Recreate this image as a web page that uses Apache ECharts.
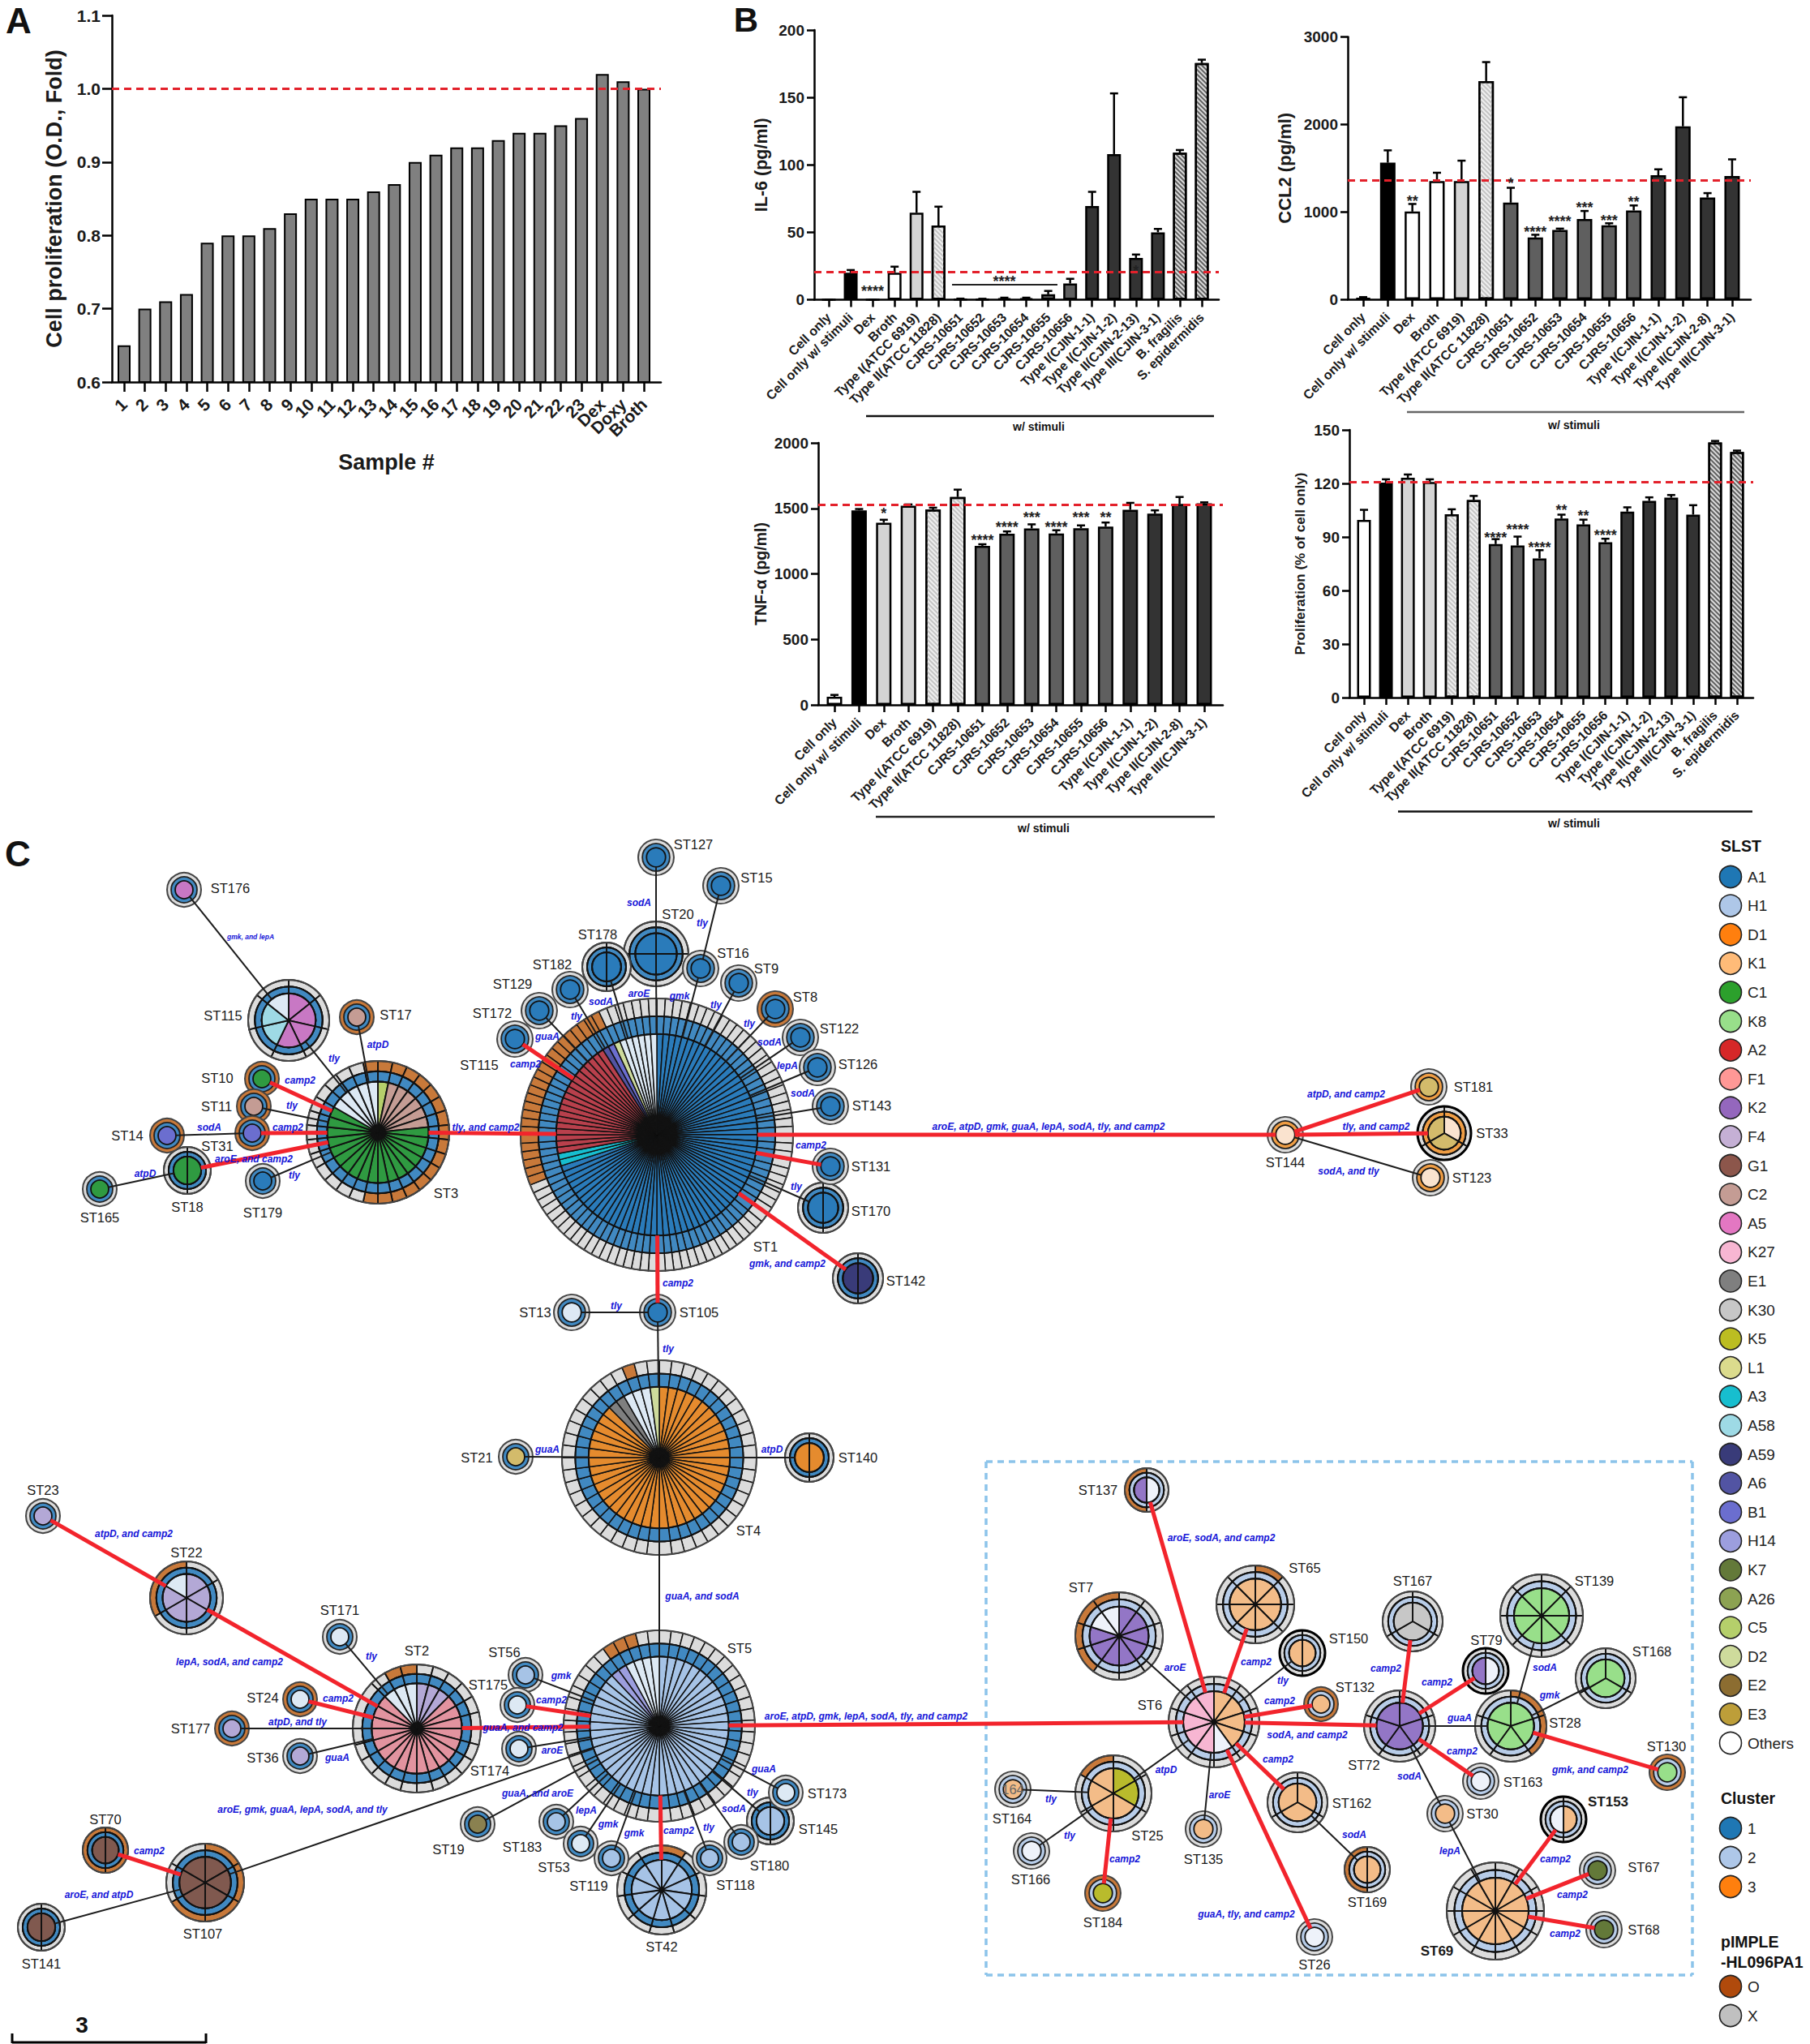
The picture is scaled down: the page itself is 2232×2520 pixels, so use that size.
<!DOCTYPE html>
<html><head><meta charset="utf-8">
<style>html,body{margin:0;padding:0;background:#fff}#c{width:2232px;height:2520px}</style>
<script src="https://cdn.jsdelivr.net/npm/echarts@6/dist/echarts.min.js"></script>
</head><body><div id="c"></div>
<script>
const FONT='"Liberation Sans",Arial,sans-serif';
/* ---------- Panel A ---------- */
const sampleLabels=['1','2','3','4','5','6','7','8','9','10','11','12','13','14','15','16','17','18','19','20','21','22','23','Dex','Doxy','Broth'];
const sampleValues=[.65,.70,.71,.72,.79,.80,.80,.81,.83,.85,.85,.85,.86,.87,.90,.91,.92,.92,.93,.94,.94,.95,.96,1.02,1.01,1.00];
/* ---------- Panel B ---------- */
const strainsA=['Cell only','Cell only w/ stimuli','Dex','Broth','Type I(ATCC 6919)','Type II(ATCC 11828)','CJRS-10651','CJRS-10652','CJRS-10653','CJRS-10654','CJRS-10655','CJRS-10656','Type I(CJIN-1-1)','Type I(CJIN-1-2)','Type II(CJIN-2-13)','Type III(CJIN-3-1)','B. fragilis','S. epidermidis'];
const strainsB=['Cell only','Cell only w/ stimuli','Dex','Broth','Type I(ATCC 6919)','Type II(ATCC 11828)','CJRS-10651','CJRS-10652','CJRS-10653','CJRS-10654','CJRS-10655','CJRS-10656','Type I(CJIN-1-1)','Type I(CJIN-1-2)','Type II(CJIN-2-8)','Type III(CJIN-3-1)'];
const il6Mean=[0,20,0,20,64.5,55,.3,.3,1,1,4,12,69.5,108,31,50,109,175.5];
const il6Top=[0,22,0,24.5,80,69,.8,.7,1.5,1.5,6.5,15.5,80,153,33.5,52.5,111,178];
const il6Fill=['W','K','W','W','L','LH','M','M','M','M','M','M','D','D','D','D','DH','DH'];
const il6Stars=[[2,8.7,'****'],[8,16,'****'],[14,23.8,'*']];
const ccl2Mean=[15,1562,1003,1351,1351,2495,1105,706,792,917,847,1016,1418,1978,1163,1409];
const ccl2Top=[25,1703,1090,1447,1585,2712,1275,738,808,1010,869,1073,1486,2310,1214,1600];
const ccl2Fill=['W','K','W','W','L','LH','M','M','M','M','M','M','D','D','D','D'];
const ccl2Stars=[[2,1163,'**'],[6,1361,'*'],[7,808,'****'],[8,923,'****'],[9,1083,'***'],[10,936,'***'],[11,1147,'**']];
const tnfMean=[62,1485,1390,1520,1491,1587,1214,1306,1347,1308,1349,1361,1489,1460,1534,1538];
const tnfTop=[76,1495,1413,1530,1505,1643,1226,1324,1378,1333,1370,1392,1542,1485,1587,1546];
const tnfFill=['W','K','L','L','LH','LH','M','M','M','M','M','M','D','D','D','D'];
const tnfStars=[[2,1485,'*'],[6,1279,'****'],[7,1382,'****'],[8,1458,'***'],[9,1382,'****'],[10,1458,'***'],[11,1458,'**']];
const proMean=[99.5,120.5,123.2,120.8,102.7,110.7,86,85.2,78,100.3,97,87,104.2,110.2,112,102.5,143,137.6];
const proTop=[105.2,122.3,125,122.3,105.5,113,88.8,90.2,82.6,102.5,99.7,89,106.6,112.2,113.5,107.8,143.8,138.4];
const proFill=['W','K','L','L','LH','LH','M','M','M','M','M','M','D','D','D','D','DH','DH'];
const proStars=[[6,91.5,'****'],[7,96,'****'],[8,86,'****'],[9,106.6,'**'],[10,103.7,'**'],[11,92.6,'****']];
/* ---------- Panel C composition ---------- */
const slstNames=['A1','H1','D1','K1','C1','K8','A2','F1','K2','F4','G1','C2','A5','K27','E1','K30','K5','L1','A3','A58','A59','A6','B1','H14','K7','A26','C5','D2','E2','E3','Others'];
const slstColors=['#1f77b4','#aec7e8','#ff7f0e','#ffbb78','#2ca02c','#98df8a','#d62728','#ff9896','#9467bd','#c5b0d5','#8c564b','#c49c94','#e377c2','#f7b6d2','#7f7f7f','#c7c7c7','#bcbd22','#dbdb8d','#17becf','#9edae5','#393b79','#5254a3','#6b6ecf','#9c9ede','#637939','#8ca252','#b5cf6b','#cedb9c','#8c6d31','#bd9e39','#ffffff'];
const nodeSlst={
ST1:[['A1',70],['A3',2],['A2',19],['A6',1],['B1',1],['D2',1],['Others',6]],
ST3:[['C5',1],['C2',6],['C1',18],['Others',5]],
ST115:[['A5',4],['A58',2],['Others',1]],ST176:[['A5',1]],ST17:[['C2',1]],ST10:[['C1',1]],ST11:[['C2',1]],ST31:[['B1',1]],ST14:[['B1',1]],
ST18:[['C1',2]],ST165:[['C1',1]],ST179:[['A1',1]],ST127:[['A1',1]],ST15:[['A1',1]],ST20:[['A1',4]],ST178:[['A1',2]],ST16:[['A1',1]],ST182:[['A1',1]],
ST9:[['A1',1]],ST129:[['A1',1]],ST8:[['A1',1]],ST172:[['A1',1]],ST122:[['A1',1]],ST126:[['A1',1]],ST143:[['A1',1]],ST131:[['A1',1]],ST170:[['A1',2]],
ST142:[['A59',2]],ST105:[['A1',1]],ST13:[['Others',1]],ST144:[['Others',1]],ST181:[['E3',1]],ST33:[['Others',1],['E3',2]],ST123:[['Others',1]],
ST4:[['D1',42],['E1',2],['Others',3],['D2',1]],ST21:[['E3',1]],ST140:[['D1',2]],
ST2:[['F4',3],['F1',18],['Others',3]],ST22:[['F4',5],['Others',1]],ST23:[['F4',1]],ST24:[['Others',1]],ST177:[['F4',1]],ST36:[['F4',1]],ST171:[['Others',1]],
ST5:[['H1',44],['H14',2],['Others',4]],ST56:[['H1',1]],ST175:[['Others',1]],ST174:[['Others',1]],ST19:[['E2',1]],ST183:[['H1',1]],ST53:[['Others',1]],ST119:[['H1',1]],
ST42:[['H1',11]],ST118:[['H1',1]],ST180:[['H1',1]],ST145:[['H1',2]],ST173:[['Others',1]],ST70:[['G1',2]],ST107:[['G1',6]],ST141:[['G1',2]],
ST6:[['K1',4],['Others',1],['K27',5]],ST137:[['Others',1],['K2',1]],ST7:[['K2',8],['Others',2]],ST65:[['K1',8]],ST150:[['K1',2]],ST132:[['K1',1]],ST135:[['K1',1]],
ST26:[['Others',1]],ST164:[['K1',1]],ST166:[['Others',1]],ST184:[['K5',1]],ST25:[['K5',2],['K1',4]],ST162:[['K1',3]],ST169:[['K1',2]],ST72:[['K2',5]],ST167:[['K30',3]],
ST79:[['Others',1],['K2',1]],ST139:[['K8',8]],ST168:[['K8',3]],ST28:[['K8',5]],ST130:[['K8',1]],ST163:[['Others',1]],ST30:[['K1',1]],ST153:[['K1',1],['Others',1]],
ST67:[['K7',1]],ST68:[['K7',1]],ST69:[['K1',12]]};
const cluster2=['ST6','ST137','ST7','ST65','ST150','ST132','ST135','ST26','ST164','ST166','ST184','ST25','ST162','ST169','ST72','ST167','ST79','ST139','ST168','ST28','ST130','ST163','ST30','ST153','ST67','ST68','ST69'];
const cluster3=['ST144','ST181','ST33','ST123'];
const plasmidWhole=['ST17','ST10','ST11','ST31','ST14','ST8','ST24','ST177','ST70','ST132','ST184','ST130'];
const plasmidRuns={ST1:[['X',69],['O',24],['X',7]],ST3:[['O',16],['X',13],['O',1]],ST4:[['X',45],['O',1],['X',2]],ST2:[['X',22],['O',2]],ST22:[['X',4],['O',2]],
ST5:[['X',45],['O',3],['X',2]],ST42:[['O',1],['X',10]],ST107:[['O',4],['X',2]],ST137:[['X',1],['O',1]],ST7:[['X',6],['O',4]],ST65:[['O',1],['X',7]],ST25:[['X',5],['O',1]],
ST169:[['X',1],['O',1]],ST28:[['O',2],['X',3]]};
const edges=[
['ST3','ST1','r','tly, and camp2'],['ST1','ST172','r','camp2'],['ST1','ST129','k','guaA'],['ST1','ST182','k','tly'],['ST1','ST178','k','sodA'],['ST1','ST20','k','aroE'],
['ST1','ST16','k','gmk'],['ST1','ST9','k','tly'],['ST1','ST8','k','tly'],['ST1','ST122','k','sodA'],['ST1','ST126','k','lepA'],['ST1','ST143','k','sodA'],['ST1','ST131','r','camp2'],
['ST1','ST170','k','tly'],['ST1','ST142','r','gmk, and camp2'],['ST1','ST105','r','camp2'],['ST105','ST13','k','tly'],['ST105','ST4','k','tly'],['ST20','ST127','k','sodA'],['ST16','ST15','k','tly'],
['ST1','ST144','r','aroE, atpD, gmk, guaA, lepA, sodA, tly, and camp2'],['ST144','ST181','r','atpD, and camp2'],['ST144','ST33','r','tly, and camp2'],['ST144','ST123','k','sodA, and tly'],
['ST3','ST115','k','tly'],['ST115','ST176','k','gmk, and lepA'],['ST3','ST17','k','atpD'],['ST3','ST10','r','camp2'],['ST3','ST11','k','tly'],['ST3','ST31','r','camp2'],['ST31','ST14','k','sodA'],
['ST3','ST18','r','aroE, and camp2'],['ST18','ST165','k','atpD'],['ST3','ST179','k','tly'],['ST4','ST21','k','guaA'],['ST4','ST140','k','atpD'],['ST4','ST5','k','guaA, and sodA'],
['ST5','ST56','k','gmk'],['ST5','ST175','r','camp2'],['ST5','ST2','r','guaA, and camp2'],['ST5','ST174','k','aroE'],['ST5','ST19','k','guaA, and aroE'],['ST5','ST183','k','lepA'],['ST5','ST53','k','gmk'],
['ST5','ST119','k','gmk'],['ST5','ST42','r','camp2'],['ST5','ST118','k','tly'],['ST5','ST180','k','sodA'],['ST5','ST145','k','tly'],['ST5','ST173','k','guaA'],
['ST5','ST6','r','aroE, atpD, gmk, lepA, sodA, tly, and camp2'],['ST2','ST171','k','tly'],['ST2','ST22','r','lepA, sodA, and camp2'],['ST22','ST23','r','atpD, and camp2'],['ST2','ST24','r','camp2'],
['ST2','ST177','k','atpD, and tly'],['ST2','ST36','k','guaA'],['ST5','ST107','k','aroE, gmk, guaA, lepA, sodA, and tly'],['ST107','ST70','r','camp2'],['ST107','ST141','k','aroE, and atpD'],
['ST6','ST137','r','aroE, sodA, and camp2'],['ST6','ST7','k','aroE'],['ST6','ST65','r','camp2'],['ST6','ST150','k','tly'],['ST6','ST132','r','camp2'],['ST6','ST72','r','sodA, and camp2'],['ST6','ST162','r','camp2'],
['ST6','ST25','k','atpD'],['ST6','ST135','k','aroE'],['ST6','ST26','r','guaA, tly, and camp2'],['ST25','ST164','k','tly'],['ST25','ST166','k','tly'],['ST25','ST184','r','camp2'],['ST162','ST169','k','sodA'],
['ST72','ST167','r','camp2'],['ST72','ST79','r','camp2'],['ST72','ST28','k','guaA'],['ST72','ST163','r','camp2'],['ST72','ST30','k','sodA'],['ST30','ST69','k','lepA'],['ST28','ST139','k','sodA'],['ST28','ST168','k','gmk'],
['ST28','ST130','r','gmk, and camp2'],['ST69','ST153','r','camp2'],['ST69','ST67','r','camp2'],['ST69','ST68','r','camp2']];
/* ---------- Layout (positions only) ---------- */
const nodeXY={ST1:[810,1399,168],ST3:[466,1396,88],ST115:[356,1258,50],ST176:[227,1097,21],ST17:[440,1254,21],ST10:[323,1330,21],ST11:[313,1364,21],ST31:[311,1397,21],ST14:[206,1400,21],ST18:[231,1443,29],ST165:[123,1466,21],ST179:[324,1456,21],
ST13:[705,1618,22],ST105:[811,1618,22],ST127:[809,1057,22],ST15:[889,1092,22],ST20:[809,1176,40],ST178:[748,1192,30],ST16:[864,1194,22],ST182:[703,1220,22],ST9:[911,1212,22],ST129:[665,1246,22],ST8:[956,1244,22],ST172:[635,1281,22],ST122:[987,1279,22],ST126:[1008,1316,22],ST143:[1024,1364,22],ST131:[1024,1438,22],ST170:[1015,1489,31],ST142:[1058,1576,31],
ST144:[1585,1399,22],ST181:[1762,1340,22],ST33:[1781,1397,33],ST123:[1764,1452,22],ST4:[813,1797,120],ST21:[636,1796,21],ST140:[998,1797,30],
ST23:[53,1869,21],ST22:[230,1970,45],ST171:[419,2018,21],ST2:[514,2131,79],ST24:[370,2095,21],ST177:[286,2131,21],ST36:[370,2165,21],ST56:[648,2065,21],ST175:[638,2102,21],ST174:[640,2156,21],ST5:[813,2128,118],ST19:[589,2249,21],ST183:[686,2246,21],ST53:[716,2273,21],ST119:[754,2291,21],ST42:[816,2330,55],ST118:[875,2291,21],ST180:[914,2271,21],ST145:[950,2245,29],ST173:[969,2210,21],ST70:[130,2281,28],ST107:[253,2321,48],ST141:[51,2376,29],
ST137:[1414,1837,27],ST7:[1380,2017,54],ST65:[1548,1978,48],ST150:[1606,2038,28],ST6:[1497,2123,56],ST132:[1629,2101,21],ST167:[1742,1999,37],ST79:[1832,2060,28],ST139:[1901,1992,51],ST168:[1980,2069,37],ST72:[1726,2128,44],ST28:[1863,2128,44],ST130:[2056,2185,22],ST163:[1826,2196,22],ST25:[1373,2211,47],ST164:[1249,2206,22],ST166:[1272,2282,22],ST184:[1360,2334,22],ST135:[1484,2255,22],ST162:[1600,2222,37],ST169:[1686,2305,28],ST26:[1621,2388,22],ST30:[1782,2236,22],ST153:[1928,2243,28],ST69:[1844,2356,60],ST67:[1970,2306,22],ST68:[1978,2379,22]};
const thickOutline=['ST33','ST150','ST79','ST153'];
const nodeLabelXY={ST176:[284,1095],ST115:[275,1252],ST17:[488,1251],ST10:[268,1329],ST11:[267,1364],ST14:[157,1400],ST31:[268,1413],ST165:[123,1501],ST18:[231,1488],ST179:[324,1495],ST3:[550,1471],
ST127:[855,1041],ST15:[933,1082],ST20:[836,1127],ST178:[737,1152],ST16:[904,1175],ST182:[681,1189],ST9:[945,1194],ST129:[632,1213],ST8:[993,1229],ST172:[607,1249],ST122:[1035,1268],ST126:[1058,1312],ST143:[1075,1363],ST131:[1074,1438],ST170:[1074,1493],ST1:[944,1537],ST142:[1117,1579],ST13:[660,1618],ST105:[862,1618],
ST4:[923,1887],ST21:[588,1797],ST140:[1058,1797],ST23:[53,1837],ST22:[230,1914],ST171:[419,1985],ST2:[514,2035],ST24:[324,2093],ST177:[235,2131],ST36:[324,2167],ST56:[622,2037],ST175:[602,2077],ST174:[604,2183],ST5:[912,2032],ST19:[553,2280],ST183:[644,2277],ST53:[683,2302],ST119:[726,2325],ST42:[816,2400],ST118:[907,2324],ST180:[949,2300],ST145:[1009,2255],ST173:[1020,2211],ST70:[130,2243],ST107:[250,2384],ST141:[51,2421],
ST137:[1354,1837],ST7:[1333,1957],ST65:[1609,1933],ST150:[1663,2020],ST6:[1418,2102],ST132:[1671,2080],ST167:[1742,1949],ST79:[1833,2022],ST139:[1966,1949],ST168:[2037,2036],ST72:[1682,2176],ST28:[1930,2124],ST130:[2055,2153],ST163:[1878,2197],ST25:[1415,2263],ST164:[1248,2242],ST166:[1271,2317],ST184:[1360,2370],ST135:[1484,2292],ST162:[1667,2223],ST169:[1686,2345],ST26:[1621,2422],ST30:[1828,2236],ST153:[1983,2221],ST69:[1772,2405],ST67:[2027,2302],ST68:[2027,2379],
ST144:[1585,1433],ST181:[1817,1340],ST33:[1840,1397],ST123:[1815,1452]};
const boldLabels=['ST153','ST69'];
const edgeLabelXY={'ST3-ST1':[599,1390],'ST1-ST172':[648,1312],'ST1-ST129':[675,1278],'ST1-ST182':[711,1253],'ST1-ST178':[741,1235],'ST1-ST20':[788,1225],'ST1-ST16':[838,1228],'ST1-ST9':[883,1239],'ST1-ST8':[924,1262],'ST1-ST122':[949,1285],'ST1-ST126':[971,1314],'ST1-ST143':[990,1348],'ST1-ST131':[1000,1412],'ST1-ST170':[982,1463],'ST1-ST142':[971,1558],'ST1-ST105':[836,1582],'ST105-ST13':[760,1610],'ST105-ST4':[824,1663],'ST20-ST127':[788,1113],'ST16-ST15':[866,1138],
'ST1-ST144':[1293,1389],'ST144-ST181':[1660,1349],'ST144-ST33':[1697,1389],'ST144-ST123':[1663,1444],'ST3-ST115':[412,1305],'ST115-ST176':[309,1155],'ST3-ST17':[466,1288],'ST3-ST10':[370,1332],'ST3-ST11':[360,1363],'ST3-ST31':[355,1390],'ST31-ST14':[258,1390],'ST3-ST18':[313,1429],'ST18-ST165':[179,1447],'ST3-ST179':[363,1449],'ST4-ST21':[675,1787],'ST4-ST140':[952,1787],'ST4-ST5':[866,1968],
'ST5-ST56':[692,2066],'ST5-ST175':[680,2096],'ST5-ST2':[645,2130],'ST5-ST174':[681,2158],'ST5-ST19':[663,2211],'ST5-ST183':[723,2232],'ST5-ST53':[750,2249],'ST5-ST119':[782,2260],'ST5-ST42':[837,2257],'ST5-ST118':[874,2253],'ST5-ST180':[905,2230],'ST5-ST145':[928,2210],'ST5-ST173':[942,2181],'ST5-ST6':[1068,2116],'ST2-ST171':[458,2042],'ST2-ST22':[283,2049],'ST22-ST23':[165,1891],'ST2-ST24':[417,2094],'ST2-ST177':[367,2123],'ST2-ST36':[416,2167],'ST5-ST107':[373,2231],'ST107-ST70':[184,2282],'ST107-ST141':[122,2336],
'ST6-ST137':[1506,1896],'ST6-ST7':[1449,2056],'ST6-ST65':[1549,2049],'ST6-ST150':[1582,2072],'ST6-ST132':[1578,2097],'ST6-ST72':[1612,2139],'ST6-ST162':[1576,2169],'ST6-ST25':[1438,2182],'ST6-ST135':[1504,2213],'ST6-ST26':[1537,2360],'ST25-ST164':[1296,2218],'ST25-ST166':[1319,2263],'ST25-ST184':[1387,2292],'ST162-ST169':[1670,2262],'ST72-ST167':[1709,2057],'ST72-ST79':[1772,2074],'ST72-ST28':[1800,2118],'ST72-ST163':[1803,2159],'ST72-ST30':[1738,2190],'ST30-ST69':[1788,2282],'ST28-ST139':[1905,2056],'ST28-ST168':[1911,2090],'ST28-ST130':[1961,2182],'ST69-ST153':[1918,2292],'ST69-ST67':[1939,2336],'ST69-ST68':[1930,2384]};

/* ---------- Styles ---------- */
const plainFill={W:'#ffffff',K:'#000000',L:'#d4d4d4',M:'#5f5f5f',D:'#333333'};
const hatch={LH:['#efefef','#c4c4c4'],DH:['#dcdcdc','#606060']};
const nodeColorOverride={A1:'#2a7bba',A2:'#b8404c',D1:'#e58b2e',F1:'#e2939f',E3:'#d3bb6b',C1:'#2f9a41',K2:'#9376c6',H1:'#a6c3e6',K5:'#b9bb2c',G1:'#80594f',E2:'#8a8150',K1:'#f3bc88',F4:'#b3a8d6',A5:'#c878c4'};
const othersTint={1:'#dde9f4',2:'#eef2fa',3:'#fae3cf'};
const clusterRing={1:'#4189c1',2:'#b7cce8',3:'#ef9d44'};
const plasmidRing={O:'#c8793a',X:'#dcdcdc'};
const TXT='#1a1a1a';

/* ---------- Charts A, B: grids ---------- */
const charts=[
 {labels:sampleLabels,mean:sampleValues,left:138,w:677,top:19,h:452,spacing:25.64,first:153,barW:16,ymin:.6,ymax:1.1,yint:.1,title:'Cell proliferation (O.D., Fold)',titleSize:27,titleGap:58,line:1.0,tickSize:21,catSize:21,fmt:v=>v.toFixed(1),xName:'Sample #',barFill:'#808080',bw:2,tickLen:12,yMargin:14,xMargin:24,blankEnd:true},
 {labels:strainsA,mean:il6Mean,top_:il6Top,fill:il6Fill,stars:il6Stars,left:1004,w:499,top:37,h:332.5,spacing:27.06,first:1022,barW:17,ymin:0,ymax:200,yint:50,title:'IL-6 (pg/ml)',titleSize:21.5,titleGap:54,line:20.5,tickSize:19,catSize:16},
 {labels:strainsB,mean:ccl2Mean,top_:ccl2Top,fill:ccl2Fill,stars:ccl2Stars,left:1662,w:497,top:45.5,h:323.5,spacing:30.33,first:1681,barW:19,ymin:0,ymax:3000,yint:1000,title:'CCL2 (pg/ml)',titleSize:22,titleGap:67,line:1361,tickSize:19,catSize:16},
 {labels:strainsB,mean:tnfMean,top_:tnfTop,fill:tnfFill,stars:tnfStars,left:1009,w:499,top:546,h:323,spacing:30.4,first:1029,barW:19,ymin:0,ymax:2000,yint:500,title:'TNF-\u03b1 (pg/ml)',titleSize:19.5,titleGap:61,line:1528,tickSize:19,catSize:16},
 {labels:strainsA,mean:proMean,top_:proTop,fill:proFill,stars:proStars,left:1664,w:498,top:530,h:330,spacing:27.06,first:1682,barW:17,ymin:0,ymax:150,yint:30,title:'Proliferation (% of cell only)',titleSize:17,titleGap:52,line:120.8,tickSize:19,catSize:16}
];
const grid=[],xAxis=[],yAxis=[],series=[];
charts.forEach((c,k)=>{
 const idx=c.labels.map((_,i)=>i);
 const xmin=-(c.first-c.left)/c.spacing, xmax=xmin+c.w/c.spacing;
 /* a blank last stop keeps the tightly packed final rotated labels from being dropped as overlaps */
 const stops=c.blankEnd?idx.concat([xmax-.001]):idx;
 grid.push({left:c.left,top:c.top,width:c.w,height:c.h});
 xAxis.push({gridIndex:k,type:'value',min:xmin,max:xmax,splitLine:{show:false},
  axisLine:{show:true,onZero:false,lineStyle:{color:'#000',width:2.5}},
  axisTick:{show:true,customValues:stops,length:c.tickLen||9,lineStyle:{color:'#000',width:2.5}},
  axisLabel:{show:true,customValues:stops,formatter:v=>c.labels[Math.round(v)]||'',rotate:45,fontFamily:FONT,fontWeight:'bold',fontSize:c.catSize,color:TXT,margin:c.xMargin||19,hideOverlap:false,showMinLabel:true,showMaxLabel:c.blankEnd?false:true},
  name:c.xName||'',nameLocation:'middle',nameGap:85,nameTextStyle:{fontFamily:FONT,fontWeight:'bold',fontSize:27,color:TXT}});
 yAxis.push({gridIndex:k,type:'value',min:c.ymin,max:c.ymax,interval:c.yint,splitLine:{show:false},
  axisLine:{show:true,onZero:false,lineStyle:{color:'#000',width:2.5}},
  axisTick:{show:true,length:c.tickLen||9,lineStyle:{color:'#000',width:2.5}},
  axisLabel:{show:true,fontFamily:FONT,fontWeight:'bold',fontSize:c.tickSize,color:TXT,margin:c.yMargin||12,formatter:c.fmt||(v=>String(v))},
  name:c.title,nameLocation:'middle',nameGap:c.titleGap,nameRotate:90,nameTextStyle:{fontFamily:FONT,fontWeight:'bold',fontSize:c.titleSize,color:TXT}});
 if(c.top_){
  series.push({type:'custom',xAxisIndex:k,yAxisIndex:k,z:2,silent:true,clip:false,data:idx.map(i=>[i,c.mean[i],c.top_[i]]),encode:{x:0,y:[1,2]},
   renderItem(p,api){const a=api.coord([api.value(0),api.value(1)]),b=api.coord([api.value(0),api.value(2)]);
    const s={stroke:'#000',lineWidth:2.5};
    return {type:'group',children:[{type:'line',shape:{x1:a[0],y1:a[1],x2:b[0],y2:b[1]},style:s},{type:'line',shape:{x1:b[0]-5,y1:b[1],x2:b[0]+5,y2:b[1]},style:s}]};}});
 }
 series.push({type:'bar',xAxisIndex:k,yAxisIndex:k,z:3,barWidth:c.barW,silent:true,
  itemStyle:{borderColor:'#000',borderWidth:c.bw||2.5},
  data:idx.map(i=>{const key=c.fill?c.fill[i]:null;let color=c.barFill||plainFill[key],decal=null;
    if(hatch[key]){color=hatch[key][0];decal={symbol:'rect',symbolSize:1,dashArrayX:[1,0],dashArrayY:[2,2],rotation:Math.PI/4,color:hatch[key][1]};}
    return {value:[i,c.mean[i]],itemStyle:{color,decal:decal||undefined}};}),
  markLine:{silent:true,symbol:'none',z:6,label:{show:false},lineStyle:{color:'#e3212b',type:[9,6],width:3},data:[{yAxis:c.line}]}});
 if(c.stars){
  series.push({type:'custom',xAxisIndex:k,yAxisIndex:k,z:7,silent:true,clip:false,data:c.stars.map(s=>[s[0],s[1]]),encode:{x:0,y:1},
   renderItem(p,api){const a=api.coord([api.value(0),api.value(1)]);
    return {type:'text',style:{x:a[0],y:a[1]+4,text:c.stars[p.dataIndex][2],align:'center',verticalAlign:'middle',fontFamily:FONT,fontWeight:'bold',fontSize:18,fill:'#222'}};}});
 }
});
/* overlay coordinate system for panel C and annotations */
const OV=charts.length;
grid.push({left:0,top:0,width:2232,height:2520});
xAxis.push({gridIndex:OV,type:'value',min:0,max:2232,show:false});
yAxis.push({gridIndex:OV,type:'value',min:0,max:2520,inverse:true,show:false});

/* nodes */
const clusterOf=n=>cluster2.includes(n)?2:cluster3.includes(n)?3:1;
const expand=runs=>runs.flatMap(([k,c])=>Array(c).fill(k));
const names=Object.keys(nodeXY).sort((a,b)=>nodeXY[b][2]-nodeXY[a][2]);
const ringT=r=>.115*r+2.6;
const slstColor=(k,cl)=>k==='Others'?othersTint[cl]:(nodeColorOverride[k]||slstColors[slstNames.indexOf(k)]);
series.push({type:'custom',xAxisIndex:OV,yAxisIndex:OV,z:10,silent:true,clip:false,
 data:names.map(n=>[nodeXY[n][0],nodeXY[n][1]]),encode:{x:0,y:1},
 renderItem(p,api){
  const name=names[p.dataIndex],c=api.coord([api.value(0),api.value(1)]),r=nodeXY[name][2];
  const cl=clusterOf(name),t=ringT(r),r2=r-t,r1=r-2*t;
  const sl=expand(nodeSlst[name]),n=sl.length;
  const pl=plasmidRuns[name]?expand(plasmidRuns[name]):Array(n).fill(plasmidWhole.includes(name)?'O':'X');
  const lw=r>100?1.5:1.9,ch=[];
  if(n===1){
   ch.push({type:'circle',shape:{cx:c[0],cy:c[1],r},style:{fill:plasmidRing[pl[0]],stroke:'#444',lineWidth:2}});
   ch.push({type:'circle',shape:{cx:c[0],cy:c[1],r:r2},style:{fill:clusterRing[cl],stroke:'#222',lineWidth:1.8}});
   ch.push({type:'circle',shape:{cx:c[0],cy:c[1],r:r1},style:{fill:slstColor(sl[0],cl),stroke:'#111',lineWidth:1.8}});
  } else {
   const step=2*Math.PI/n;
   for(let i=0;i<n;i++){
    const a0=-Math.PI/2+i*step,a1=a0+step;
    const sec=(r0,rr,fill)=>({type:'sector',shape:{cx:c[0],cy:c[1],r0,r:rr,startAngle:a0,endAngle:a1,clockwise:true},style:{fill,stroke:'#111',lineWidth:lw}});
    ch.push(sec(r2,r,plasmidRing[pl[i]]));
    ch.push(sec(r1,r2,clusterRing[cl]));
    ch.push(sec(0,r1,slstColor(sl[i],cl)));
   }
   ch.push({type:'circle',shape:{cx:c[0],cy:c[1],r:r},style:{fill:'none',stroke:'#444',lineWidth:2}});
   ch.push({type:'circle',shape:{cx:c[0],cy:c[1],r:r2},style:{fill:'none',stroke:'#111',lineWidth:2}});
   ch.push({type:'circle',shape:{cx:c[0],cy:c[1],r:r1},style:{fill:'none',stroke:'#111',lineWidth:2}});
  }
  if(thickOutline.includes(name)) ch.push({type:'circle',shape:{cx:c[0],cy:c[1],r:r},style:{fill:'none',stroke:'#000',lineWidth:3}});
  return {type:'group',children:ch};
 }});
/* edges */
series.push({type:'custom',xAxisIndex:OV,yAxisIndex:OV,z:12,silent:true,clip:false,
 data:edges.map(e=>[nodeXY[e[0]][0],nodeXY[e[0]][1],nodeXY[e[1]][0],nodeXY[e[1]][1]]),encode:{x:[0,2],y:[1,3]},
 renderItem(p,api){
  const e=edges[p.dataIndex],a=api.coord([api.value(0),api.value(1)]),b=api.coord([api.value(2),api.value(3)]);
  const d=Math.hypot(b[0]-a[0],b[1]-a[1]),ux=(b[0]-a[0])/d,uy=(b[1]-a[1])/d;
  const ra=nodeXY[e[0]][2],rb=nodeXY[e[1]][2],pa=ra-2*ringT(ra),pb=rb-2*ringT(rb);
  const red=e[2]==='r';
  return {type:'line',shape:{x1:a[0]+ux*pa,y1:a[1]+uy*pa,x2:b[0]-ux*pb,y2:b[1]-uy*pb},style:{stroke:red?'#f2242c':'#1c1c1c',lineWidth:red?5:2}};
 }});
/* text helper series */
function textSeries(rows,z,style){
 series.push({type:'custom',xAxisIndex:OV,yAxisIndex:OV,z,silent:true,clip:false,data:rows.map(r=>[r[0],r[1]]),encode:{x:0,y:1},
  renderItem(p,api){const a=api.coord([api.value(0),api.value(1)]),r=rows[p.dataIndex];
   return {type:'text',style:Object.assign({x:a[0],y:a[1],text:r[2],align:'center',verticalAlign:'middle',fontFamily:FONT,fill:TXT},style,r[3]||{})};}});
}
textSeries(Object.keys(nodeLabelXY).map(n=>[nodeLabelXY[n][0],nodeLabelXY[n][1],n,boldLabels.includes(n)?{fontWeight:'bold',fontSize:17}:{}]).concat([[591,1313,'ST115'],[1249,2206,'164',{fill:'#666'}]]),14,{fontSize:16.5});
textSeries(edges.map(e=>{const xy=edgeLabelXY[e[0]+'-'+e[1]];const tiny=e[3]==='gmk, and lepA';return [xy[0],xy[1],e[3],tiny?{fontSize:8.5}:{}];}),15,{fontSize:12,fontWeight:'bold',fontStyle:'italic',fill:'#1515d8'});
/* rules: stimuli bars, scale bar, dashed frame */
const rules=[[1068,513,1497,513,'#111',2.5],[1735,508,2151,508,'#666',2.5],[1080,1007,1498,1007,'#222',2.5],[1724,1000.5,2161,1000.5,'#111',2.5],[1174,351,1304,351,'#222',2],
 [15,2518,254,2518,'#000',3],[15,2507,15,2519,'#000',3],[254,2507,254,2519,'#000',3],
 [1216,1802,2087,1802,'#8cc4ea',3.5,[8,6]],[1216,2435,2087,2435,'#8cc4ea',3.5,[8,6]],[1216,1802,1216,2435,'#8cc4ea',3.5,[8,6]],[2087,1802,2087,2435,'#8cc4ea',3.5,[8,6]]];
series.push({type:'custom',xAxisIndex:OV,yAxisIndex:OV,z:8,silent:true,clip:false,data:rules.map(r=>r.slice(0,4)),encode:{x:[0,2],y:[1,3]},
 renderItem(p,api){const a=api.coord([api.value(0),api.value(1)]),b=api.coord([api.value(2),api.value(3)]),r=rules[p.dataIndex];
  return {type:'line',shape:{x1:a[0],y1:a[1],x2:b[0],y2:b[1]},style:{stroke:r[4],lineWidth:r[5],lineDash:r[6]||null}};}});
textSeries([[23,25,'A',{fontSize:44}],[920,24,'B',{fontSize:42}],[22,1052,'C',{fontSize:44}],[101,2496,'3',{fontSize:28}],
 [1281,526,'w/ stimuli',{fontSize:14}],[1941,524,'w/ stimuli',{fontSize:14}],[1287,1021,'w/ stimuli',{fontSize:14}],[1941,1015,'w/ stimuli',{fontSize:14}]],16,{fontWeight:'bold',fill:'#111'});
/* legends */
const legendY0=1081,legendDy=35.6;
const legendSwatches=slstNames.map((n,i)=>[2134,legendY0+i*legendDy,slstColors[i],n])
 .concat([[2134,2254,'#1f77b4','1'],[2134,2290,'#aec7e8','2'],[2134,2326,'#ff7f0e','3'],[2134,2449,'#b04a0c','O'],[2134,2485,'#c0c0c0','X']]);
series.push({type:'custom',xAxisIndex:OV,yAxisIndex:OV,z:16,silent:true,clip:false,data:legendSwatches.map(r=>[r[0],r[1]]),encode:{x:0,y:1},
 renderItem(p,api){const a=api.coord([api.value(0),api.value(1)]);
  return {type:'circle',shape:{cx:a[0],cy:a[1],r:13.5},style:{fill:legendSwatches[p.dataIndex][2],stroke:'#222',lineWidth:1.6}};}});
textSeries(legendSwatches.map(r=>[2155,r[1],r[3]]),16,{fontSize:19,align:'left',fill:'#222'});
textSeries([[2122,1043,'SLST'],[2122,2217,'Cluster'],[2122,2394,'pIMPLE'],[2122,2419,'-HL096PA1']],16,{fontSize:19.5,fontWeight:'bold',align:'left',fill:'#111'});

const chart=echarts.init(document.getElementById('c'),null,{renderer:'svg',width:2232,height:2520});
chart.setOption({animation:false,backgroundColor:'#fff',tooltip:{show:false},grid,xAxis,yAxis,series});
</script></body></html>
